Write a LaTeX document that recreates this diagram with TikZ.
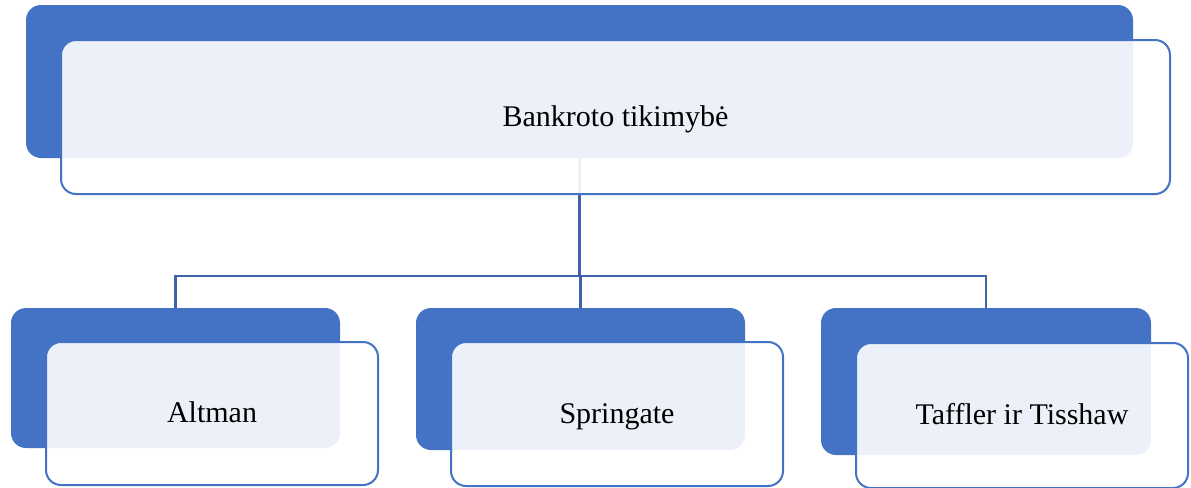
\documentclass[tikz,border=0pt]{standalone}
\usepackage{fontspec}
\setmainfont{Liberation Serif}
\begin{document}
\begin{tikzpicture}[x=0.5pt,y=-0.5pt,
  back/.style={fill=accent, draw=none, rounded corners=7.5pt, inner sep=0pt, outer sep=0pt},
  front/.style={fill=white, fill opacity=0.9, text opacity=1, draw=accent, line width=1pt,
    rounded corners=7.5pt, inner sep=0pt, outer sep=0pt, text height=10pt, text depth=1pt,
    font=\fontsize{15}{18}\selectfont},
  link/.style={draw=linkc, line width=1.25pt}]
\definecolor{accent}{HTML}{4472C4}
\definecolor{linkc}{HTML}{3F63AA}
\useasboundingbox (0,0) rectangle (1191,488);
% connector tree (drawn first so the boxes sit on top of it)
\coordinate (j) at (579.5,276);
\node[inner sep=0pt, outer sep=0pt, minimum width=553.5pt, minimum height=76.5pt] (tbg) at (579.5,81.5) {};
\node[inner sep=0pt, outer sep=0pt, minimum width=164.5pt, minimum height=70pt] (g1) at (175.5,378) {};
\node[inner sep=0pt, outer sep=0pt, minimum width=164.5pt, minimum height=71pt] (g2) at (580.5,379) {};
\node[inner sep=0pt, outer sep=0pt, minimum width=165pt, minimum height=73.5pt] (g3) at (986,381.5) {};
\draw[link] (tbg.south) -- (j);
\draw[link] (g1.north) |- (j) -| (g3.north);
\draw[link] (j -| g2.north) -- (g2.north);
% top level
\node[back, minimum width=553.5pt, minimum height=76.5pt] (tb) at (579.5,81.5) {};
\node[front, minimum width=554.5pt, minimum height=77pt] (t) at (615.5,117) {Bankroto tikimybė};
% second level
\node[back, minimum width=164.5pt, minimum height=70pt] (b1) at (175.5,378) {};
\node[front, minimum width=166pt, minimum height=71.5pt] (f1) at (212,413.5) {Altman};
\node[back, minimum width=164.5pt, minimum height=71pt] (b2) at (580.5,379) {};
\node[front, minimum width=166pt, minimum height=72pt] (f2) at (617,414) {Springate};
\node[back, minimum width=165pt, minimum height=73.5pt] (b3) at (986,381.5) {};
\node[front, minimum width=166pt, minimum height=72.5pt] (f3) at (1022,415.5) {Taffler ir Tisshaw};
\end{tikzpicture}
\end{document}
